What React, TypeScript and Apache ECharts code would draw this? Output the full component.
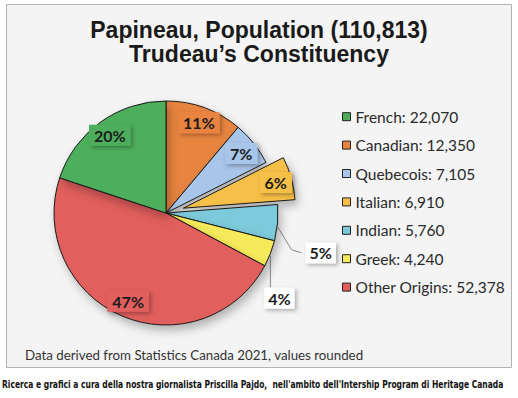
import React, { useEffect, useRef } from 'react';
import * as echarts from 'echarts';

const titleLines = ['Papineau, Population (110,813)', 'Trudeau\u2019s Constituency'];
// slices in clockwise order starting at 12 o'clock
const categories = ['Canadian', 'Quebecois', 'Italian', 'Indian', 'Greek', 'Other Origins', 'French'];
const values = [12350, 7105, 6910, 5760, 4240, 52378, 22070];
const percentLabels = ['11%', '7%', '6%', '5%', '4%', '47%', '20%'];
const sliceColors = ['#E8843F', '#A8C5EA', '#F6BF46', '#7BCADB', '#F5EB5A', '#E15E5B', '#4DAE5B'];
const legendOrder = ['French', 'Canadian', 'Quebecois', 'Italian', 'Indian', 'Greek', 'Other Origins'];
const explodedCategory = 'Italian';
const outsideLabelCategories = ['Indian', 'Greek'];
const sourceNote = 'Data derived from Statistics Canada 2021, values rounded';
const creditLine = "Ricerca e grafici a cura della nostra giornalista Priscilla Pajdo,  nell'ambito dell'Intership Program di Heritage Canada";

export default function App() {
  const ref = useRef<HTMLDivElement>(null);
  useEffect(() => {
    const chart = echarts.init(ref.current!, null, { renderer: 'svg' });
    const fmt = (v: number) => v.toLocaleString('en-US');
    const valueOf = (name: string) => values[categories.indexOf(name)];
    const labelText = { fontFamily: 'Lato', fontWeight: 'bold' as const, fontSize: 16, color: '#1c1c1c' };
    const boxShadow = { shadowColor: 'rgba(0,0,0,0.3)', shadowBlur: 4, shadowOffsetX: 2, shadowOffsetY: 2 };
    const center = [166, 213];
    const R = 112;

    const baseData = categories.map((name, i) => {
      const outside = outsideLabelCategories.includes(name);
      return {
        name,
        value: values[i],
        selected: name === explodedCategory,
        itemStyle: { color: sliceColors[i] },
        label: outside
          ? { show: true, position: 'outside', formatter: percentLabels[i], backgroundColor: '#ffffff', padding: [3, 4, 2, 4], ...labelText, ...boxShadow }
          : { show: false },
        labelLine: { show: outside },
      };
    });
    const ringData = categories.map((name, i) => {
      const outside = outsideLabelCategories.includes(name);
      return {
        name,
        value: values[i],
        selected: name === explodedCategory,
        label: outside
          ? { show: false }
          : { show: true, position: 'inside', formatter: percentLabels[i], backgroundColor: sliceColors[i], padding: [3, 5, 2, 5], ...labelText, ...boxShadow },
      };
    });

    chart.setOption({
      animation: false,
      title: {
        text: titleLines.join('\n'),
        left: 'center',
        top: 18,
        padding: 0,
        textStyle: { fontFamily: 'Liberation Sans', fontWeight: 'bold', fontSize: 23, lineHeight: 24, color: '#1a1a1a' },
      },
      legend: {
        orient: 'vertical',
        left: 342,
        top: 108.7,
        padding: 0,
        itemWidth: 8,
        itemHeight: 8,
        itemGap: 12.4,
        icon: 'rect',
        selectedMode: false,
        data: legendOrder,
        formatter: (name: string) => `${name}: ${fmt(valueOf(name))}`,
        itemStyle: { borderColor: '#222', borderWidth: 1, shadowBlur: 0, shadowOffsetX: 0, shadowOffsetY: 0 },
        textStyle: { fontFamily: 'Lato', fontSize: 15.5, lineHeight: 16, color: '#2a2a2a' },
      },
      graphic: [
        { type: 'rect', z: -100, silent: true, shape: { x: 6.5, y: 4.5, width: 505, height: 363 }, style: { fill: '#f4f4f4', stroke: '#b3b3b3', lineWidth: 1 } },
        { type: 'text', x: 25, y: 355, silent: true, style: { text: sourceNote, fontFamily: 'Lato', fontSize: 13.3, fill: '#333', verticalAlign: 'middle' } },
        { type: 'text', x: 2, y: 384, scaleX: 0.765, silent: true, style: { text: creditLine, fontFamily: 'DejaVu Sans Condensed', fontWeight: 'bold', fontSize: 11, fill: '#111', verticalAlign: 'middle' } },
      ],
      series: [
        {
          type: 'pie',
          center,
          radius: R,
          startAngle: 90,
          clockwise: true,
          selectedMode: 'single',
          selectedOffset: 18,
          avoidLabelOverlap: false,
          emphasis: { disabled: true },
          itemStyle: { borderColor: '#1a1a1a', borderWidth: 1, shadowBlur: 10, shadowOffsetX: 3, shadowOffsetY: 5, shadowColor: 'rgba(0,0,0,0.28)' },
          labelLine: { length: 15, length2: 10, lineStyle: { color: '#8a8a8a', width: 1 } },
          labelLayout: (params: any) => {
            const name = categories[params.dataIndex];
            const pts = params.labelLinePoints;
            if (!pts || !outsideLabelCategories.includes(name)) return {};
            const ex = pts[0][0];
            const ey = pts[0][1];
            if (name === 'Indian') {
              return {
                x: ex + 28, y: ey + 30, align: 'left', verticalAlign: 'middle',
                labelLinePoints: [[ex, ey + 4], [ex + 14, ey + 27], [ex + 24, ey + 30]],
              };
            }
            return {
              x: ex + 9, y: ey + 34, align: 'center', verticalAlign: 'top',
              labelLinePoints: [[ex, ey + 2], [ex, ey + 34]],
            };
          },
          data: baseData,
        },
        {
          type: 'pie',
          center,
          radius: [R * 0.66, R],
          startAngle: 90,
          clockwise: true,
          selectedMode: 'single',
          selectedOffset: 18,
          avoidLabelOverlap: false,
          silent: true,
          emphasis: { disabled: true },
          itemStyle: { color: 'transparent', borderWidth: 0 },
          labelLine: { show: false },
          data: ringData,
        },
      ],
    });
    return () => chart.dispose();
  }, []);
  return <div ref={ref} style={{ position: 'fixed', left: 0, top: 0, width: 518, height: 398, background: '#fff' }} />;
}
